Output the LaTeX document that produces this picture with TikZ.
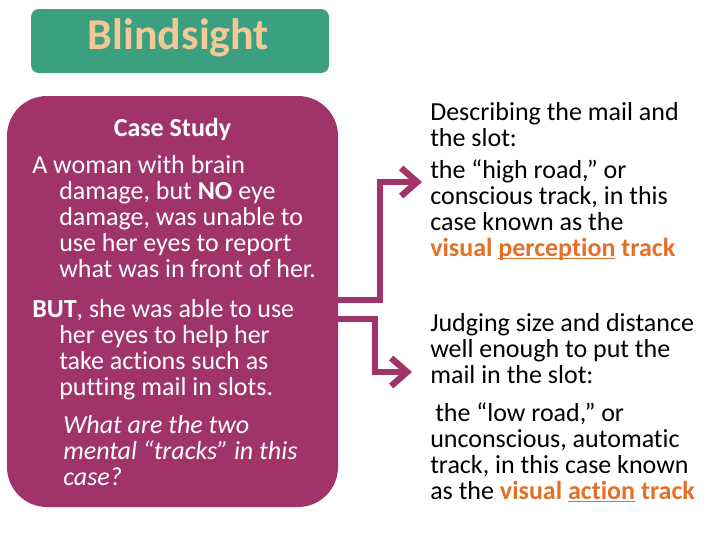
\documentclass[tikz,border=0pt]{standalone}
\usepackage{fontspec}
\setmainfont[Ligatures=NoCommon]{Carlito}
\usetikzlibrary{arrows.meta}
\definecolor{titlegreen}{RGB}{58,160,128}
\definecolor{peach}{RGB}{242,200,150}
\definecolor{plum}{RGB}{160,52,106}
\definecolor{orng}{RGB}{228,112,40}
\tikzset{
  lt/.style={anchor=base west, inner sep=0pt, text=white, font=\fontsize{19.5pt}{21pt}\selectfont},
  rt/.style={anchor=base west, inner sep=0pt, text=black, font=\fontsize{19.5pt}{21pt}\selectfont},
  conn/.style={draw=plum, line width=4.8pt, -{Straight Barb[length=12pt,width=21pt]}},
}
\newcommand{\hl}[1]{\textcolor{orng}{\textbf{#1}}}
\newcommand{\uline}[1]{\setbox0\hbox{#1}\rlap{\raisebox{-2.6pt}{\rule{\wd0}{1.3pt}}}\box0\relax}
\begin{document}
\begin{tikzpicture}[x=0.75pt,y=-0.75pt]
\useasboundingbox (0,0) rectangle (720,540);
% title
\node[fill=titlegreen, rounded corners=6pt, minimum width=223.5pt, minimum height=48pt, inner sep=0pt] (title) at (180,41) {};
\node[anchor=base, inner sep=0pt, text=peach, font=\fontsize{33pt}{36pt}\selectfont\bfseries] (titletext) at (178.5,49) {Blindsight};
% case box
\node[fill=plum, rounded corners=30pt, minimum width=248.25pt, minimum height=308.25pt, inner sep=0pt] (case) at (172.5,301.5) {};
\node[lt, anchor=base] (cs) at (172.5,136) {\textbf{Case Study}};
\node[lt] (l1) at (32,173) {A woman with brain};
\node[lt] (l2) at (59,199) {damage, but \textbf{NO} eye};
\node[lt] (l3) at (59,225) {damage, was unable to};
\node[lt] (l4) at (59,251) {use her eyes to report};
\node[lt] (l5) at (59,277) {what was in front of her.};
\node[lt] (l6) at (32,317) {\textbf{BUT}, she was able to use};
\node[lt] (l7) at (59,343) {her eyes to help her};
\node[lt] (l8) at (59,369) {take actions such as};
\node[lt] (l9) at (59,395) {putting mail in slots.};
\node[lt] (q1) at (63,433) {\itshape What are the two};
\node[lt] (q2) at (63,459) {\itshape mental “tracks” in this};
\node[lt] (q3) at (63,485) {\itshape case?};
% right text, block 1
\node[rt] (a1) at (430,120) {Describing the mail and};
\node[rt] (a2) at (430,146) {the slot:};
\node[rt] (a3) at (430,178) {the “high road,” or};
\node[rt] (a4) at (430,204) {conscious track, in this};
\node[rt] (a5) at (430,230) {case known as the};
\node[rt] (a6) at (430,256) {\hl{visual \uline{perception} track}};
% right text, block 2
\node[rt] (b1) at (430,331) {Judging size and distance};
\node[rt] (b2) at (430,357) {well enough to put the};
\node[rt] (b3) at (430,383) {mail in the slot:};
\node[rt] (b4) at (435,421) {the “low road,” or};
\node[rt] (b5) at (430,447) {unconscious, automatic};
\node[rt] (b6) at (430,473) {track, in this case known};
\node[rt] (b7) at (430,499) {as the \hl{visual \uline{action} track}};
% connectors
\coordinate (t1) at (422,182);
\coordinate (t2) at (412,372);
\draw[conn] (case.east |- 0,300) -- (380,300) |- (t1);
\draw[conn] (case.east |- 0,319) -- (375,319) |- (t2);
\end{tikzpicture}
\end{document}
